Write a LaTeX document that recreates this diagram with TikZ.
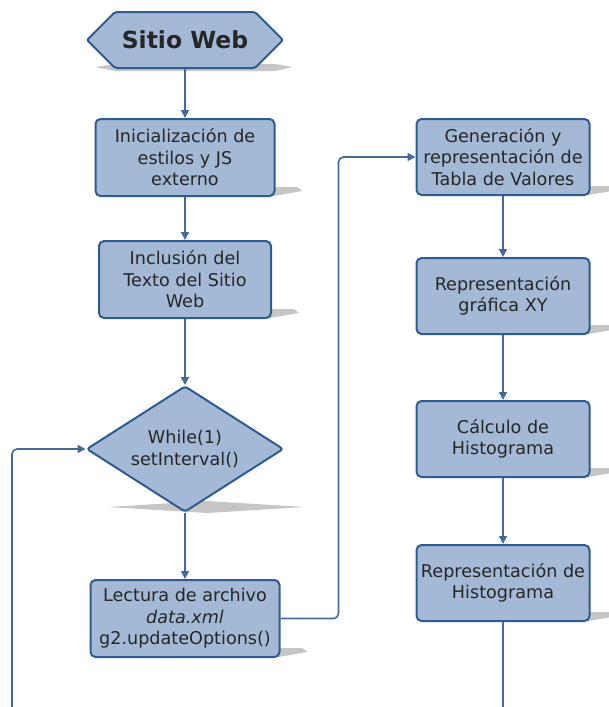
\documentclass[tikz,border=0pt]{standalone}
\usepackage{fontspec}
\setmainfont{DejaVu Sans}
\usetikzlibrary{arrows.meta,positioning,shapes.geometric,shapes.symbols,backgrounds}
\definecolor{boxfill}{HTML}{A4B9D6}
\definecolor{boxline}{HTML}{2E5C8E}
\definecolor{flowline}{HTML}{46699A}
\definecolor{shade}{HTML}{C6C6C6}

\begin{document}
\begin{tikzpicture}[x=1pt,y=-1pt,
  base/.style={draw=boxline,line width=2pt,fill=boxfill,text=black!85,align=center,font=\fontsize{17.6}{21.5}\selectfont},
  proc/.style={base,rounded corners=5pt,minimum width=173pt,minimum height=76pt,inner sep=1pt},
  loopcond/.style={base,diamond,aspect=1.57,rounded corners=3pt,minimum width=197pt,minimum height=126pt,inner sep=0pt},
  start/.style={base,signal,signal to=west and east,signal pointer angle=90,rounded corners=2pt,minimum width=196pt,minimum height=56pt,font=\fontsize{23.5}{26}\selectfont\bfseries},
  arrow/.style={draw=flowline,line width=1.6pt,rounded corners=5pt,-{Triangle[length=8pt,width=8pt]}},
  link/.style={draw=flowline,line width=1.6pt},
  shadow/.style={fill=shade}
]
\useasboundingbox (0,0) rectangle (608,707);

% left column
\node[start] (web) at (185,40) {Sitio Web};
\node[proc,minimum width=179pt,minimum height=77pt,below=49pt of web] (estilos) {Inicialización de\\estilos y JS\\externo};
\node[proc,minimum width=172pt,minimum height=77pt,below=43pt of estilos] (texto) {Inclusión del\\Texto del Sitio\\Web};
\node[loopcond,below=66pt of texto] (bucle) {While(1)\\setInterval()};
\node[proc,minimum width=189pt,minimum height=77pt,below=66pt of bucle] (lectura) {Lectura de archivo\\\textit{data.xml}\\g2.updateOptions()};

% right column
\node[proc,right=140pt of estilos.north east,anchor=north west] (tabla) {Generación y\\representación de\\Tabla de Valores};
\node[proc,below=61pt of tabla] (grafica) {Representación\\gráfica XY};
\node[proc,below=65pt of grafica] (calculo) {Cálculo de\\Histograma};
\node[proc,below=66pt of calculo] (histo) {Representación de\\Histograma};

% loose ends at the lower edge
\coordinate (salida) at (histo.south |- 0,707);
\coordinate (retorno) at (12,707);

% shadows
\begin{scope}[on background layer]
  \foreach \n in {estilos,texto,lectura,tabla,grafica,calculo,histo}
    \fill[shadow] ([xshift=14pt,yshift=1pt]\n.south west) -- ([xshift=-2pt,yshift=1pt]\n.south east)
      -- ([xshift=27pt,yshift=6pt]\n.south east) -- ([xshift=22pt,yshift=10pt]\n.south east)
      -- ([xshift=30pt,yshift=10pt]\n.south west) -- cycle;
  \fill[shadow] ([xshift=-77pt,yshift=6pt]bucle.south) -- ([xshift=22pt,yshift=12pt]bucle.south)
    -- ([xshift=120pt,yshift=6pt]bucle.south) -- ([xshift=22pt]bucle.south) -- cycle;
  \fill[shadow] ([xshift=-90pt,yshift=2pt]web.south) -- ([xshift=-70pt,yshift=5pt]web.south)
    -- ([xshift=90pt,yshift=5pt]web.south) -- ([xshift=108pt,yshift=2pt]web.south)
    -- ([xshift=90pt,yshift=-2pt]web.south) -- ([xshift=-70pt,yshift=-2pt]web.south) -- cycle;
\end{scope}

% connectors
\draw[arrow] (web) -- (estilos);
\draw[arrow] (estilos) -- (texto);
\draw[arrow] (texto) -- (bucle);
\draw[arrow] (bucle) -- (lectura);
\draw[arrow] (lectura.east) -- ++(58pt,0) |- (tabla.west);
\draw[arrow] (tabla) -- (grafica);
\draw[arrow] (grafica) -- (calculo);
\draw[arrow] (calculo) -- (histo);
\draw[link] (histo) -- (salida);
\draw[arrow] (retorno) |- (bucle.west);
\end{tikzpicture}
\end{document}
